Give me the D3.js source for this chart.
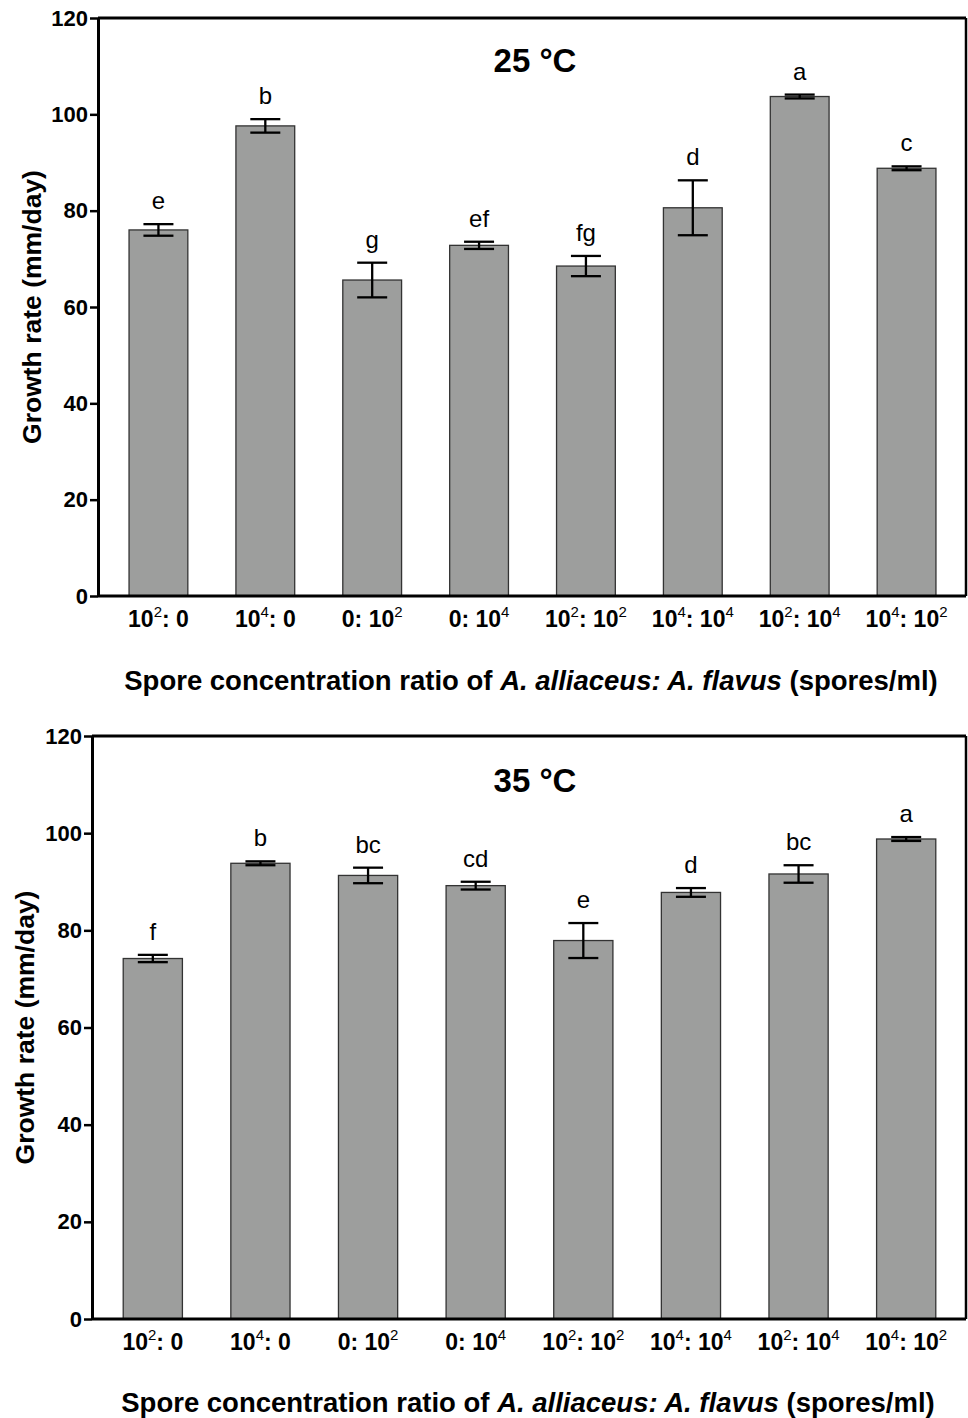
<!DOCTYPE html>
<html>
<head>
<meta charset="utf-8">
<script src="https://cdn.jsdelivr.net/npm/d3@7"></script>
<style>
  body { margin: 0; background: #fff; }
  svg { display: block; font-family: "Liberation Sans", Arial, sans-serif; }
</style>
</head>
<body>
<div id="chart"></div>
<script>
// categories (^n marks a superscript)
var tickLabels = ["10^2: 0", "10^4: 0", "0: 10^2", "0: 10^4", "10^2: 10^2", "10^4: 10^4", "10^2: 10^4", "10^4: 10^2"];
var yTicks = [0, 20, 40, 60, 80, 100, 120];

// 25 °C
var growth25 = [76.0, 97.6, 65.6, 72.8, 68.5, 80.6, 103.7, 88.8];
var err25 = [1.2, 1.4, 3.6, 0.75, 2.1, 5.7, 0.4, 0.4];
var letters25 = ["e", "b", "g", "ef", "fg", "d", "a", "c"];

// 35 °C
var growth35 = [74.2, 93.8, 91.3, 89.2, 77.9, 87.8, 91.6, 98.8];
var err35 = [0.75, 0.4, 1.6, 0.8, 3.6, 0.9, 1.8, 0.4];
var letters35 = ["f", "b", "bc", "cd", "e", "d", "bc", "a"];

var svgWidth = 968;
var svgHeight = 1418;

var svg = d3.select('#chart')
    .append('svg')
    .attr('width', svgWidth)
    .attr('height', svgHeight);

function drawPanel(p) {
    var g = svg.append('g');

    var y = d3.scaleLinear()
        .domain([0, 120])
        .range([p.bottom, p.top]);

    var x = d3.scaleBand()
        .domain(tickLabels)
        .range(p.band)
        .paddingInner(0.45)
        .paddingOuter(0.225);

    var rows = tickLabels.map(function(c, i) {
        return { cat: c, v: p.values[i], e: p.errors[i], l: p.letters[i] };
    });

    // bars
    g.selectAll('rect.bar')
        .data(rows)
        .enter()
        .append('rect')
        .attr('class', 'bar')
        .attr('x', d => x(d.cat))
        .attr('width', x.bandwidth())
        .attr('y', d => y(d.v))
        .attr('height', d => y(0) - y(d.v))
        .attr('fill', '#9d9e9d')
        .attr('stroke', '#333')
        .attr('stroke-width', 1.3);

    // error bars
    var capW = 15;
    var eb = g.selectAll('g.err')
        .data(rows)
        .enter()
        .append('g')
        .attr('class', 'err')
        .attr('stroke', '#000')
        .attr('stroke-width', 2.3);
    eb.append('line')
        .attr('x1', d => x(d.cat) + x.bandwidth() / 2)
        .attr('x2', d => x(d.cat) + x.bandwidth() / 2)
        .attr('y1', d => y(d.v - d.e))
        .attr('y2', d => y(d.v + d.e));
    eb.append('line')
        .attr('x1', d => x(d.cat) + x.bandwidth() / 2 - capW)
        .attr('x2', d => x(d.cat) + x.bandwidth() / 2 + capW)
        .attr('y1', d => y(d.v + d.e))
        .attr('y2', d => y(d.v + d.e));
    eb.append('line')
        .attr('x1', d => x(d.cat) + x.bandwidth() / 2 - capW)
        .attr('x2', d => x(d.cat) + x.bandwidth() / 2 + capW)
        .attr('y1', d => y(d.v - d.e))
        .attr('y2', d => y(d.v - d.e));

    // significance letters
    g.selectAll('text.letter')
        .data(rows)
        .enter()
        .append('text')
        .attr('class', 'letter')
        .attr('x', d => x(d.cat) + x.bandwidth() / 2)
        .attr('y', d => y(d.v + d.e) - 15)
        .attr('text-anchor', 'middle')
        .attr('font-size', 24)
        .text(d => d.l);

    // y axis
    var yAxis = g.append('g')
        .attr('transform', `translate(${p.left}, 0)`)
        .call(d3.axisLeft(y).tickValues(yTicks).tickSize(8).tickSizeOuter(0).tickPadding(2));
    yAxis.select('.domain').attr('stroke-width', 3);
    yAxis.selectAll('.tick line').attr('stroke-width', 2.5);
    yAxis.selectAll('.tick text')
        .attr('font-size', 22)
        .attr('font-weight', 'bold')
        .attr('font-family', '"Liberation Sans", Arial, sans-serif')
        .attr('fill', '#000');

    // x axis labels
    var xAxis = g.append('g')
        .attr('transform', `translate(0, ${p.bottom})`)
        .call(d3.axisBottom(x).tickSize(0).tickPadding(0));
    xAxis.select('.domain').remove();
    xAxis.selectAll('.tick text')
        .attr('font-size', 23)
        .attr('font-weight', 'bold')
        .attr('font-family', '"Liberation Sans", Arial, sans-serif')
        .attr('fill', '#000')
        .attr('dy', null)
        .attr('y', 31)
        .each(function(d) {
            var t = d3.select(this).text('');
            var parts = d.split(/(\^\d)/).filter(s => s !== '');
            var shift = 0;
            parts.forEach(function(s) {
                if (s[0] === '^') {
                    t.append('tspan').attr('font-size', 15).attr('font-weight', 'normal')
                        .attr('dy', -10).text(s.slice(1));
                    shift = 10;
                } else {
                    t.append('tspan').attr('dy', shift || null).text(s);
                    shift = 0;
                }
            });
        });

    // frame: x axis line, top and right borders
    g.append('line')
        .attr('x1', p.left).attr('x2', p.right)
        .attr('y1', p.bottom).attr('y2', p.bottom)
        .attr('stroke', '#000').attr('stroke-width', 3);
    g.append('line')
        .attr('x1', p.left).attr('x2', p.right)
        .attr('y1', p.top).attr('y2', p.top)
        .attr('stroke', '#000').attr('stroke-width', 3);
    g.append('line')
        .attr('x1', p.right).attr('x2', p.right)
        .attr('y1', p.top).attr('y2', p.bottom)
        .attr('stroke', '#000').attr('stroke-width', 2.5);

    // panel title
    g.append('text')
        .attr('x', 535)
        .attr('y', p.titleY)
        .attr('text-anchor', 'middle')
        .attr('font-size', 33)
        .attr('font-weight', 'bold')
        .text(p.title);

    // y axis title
    g.append('text')
        .attr('transform', `translate(${p.yLabelX}, ${(p.top + p.bottom) / 2}) rotate(-90)`)
        .attr('text-anchor', 'middle')
        .attr('font-size', 26.5)
        .attr('font-weight', 'bold')
        .text('Growth rate (mm/day)');

    // x axis title
    var xt = g.append('text')
        .attr('x', p.xLabelX)
        .attr('y', p.xLabelY)
        .attr('text-anchor', 'middle')
        .attr('font-size', 27.5)
        .attr('font-weight', 'bold');
    xt.append('tspan').text('Spore concentration ratio of ');
    xt.append('tspan').attr('font-style', 'italic').text('A. alliaceus: A. flavus');
    xt.append('tspan').text(' (spores/ml)');
}

drawPanel({
    top: 18, bottom: 596, left: 98, right: 966, band: [105, 960],
    values: growth25, errors: err25, letters: letters25,
    title: '25 \u00b0C', titleY: 72, yLabelX: 41, xLabelX: 531, xLabelY: 690
});

drawPanel({
    top: 736, bottom: 1319, left: 92, right: 966, band: [99, 960],
    values: growth35, errors: err35, letters: letters35,
    title: '35 \u00b0C', titleY: 792, yLabelX: 34, xLabelX: 528, xLabelY: 1412
});
</script>
</body>
</html>
